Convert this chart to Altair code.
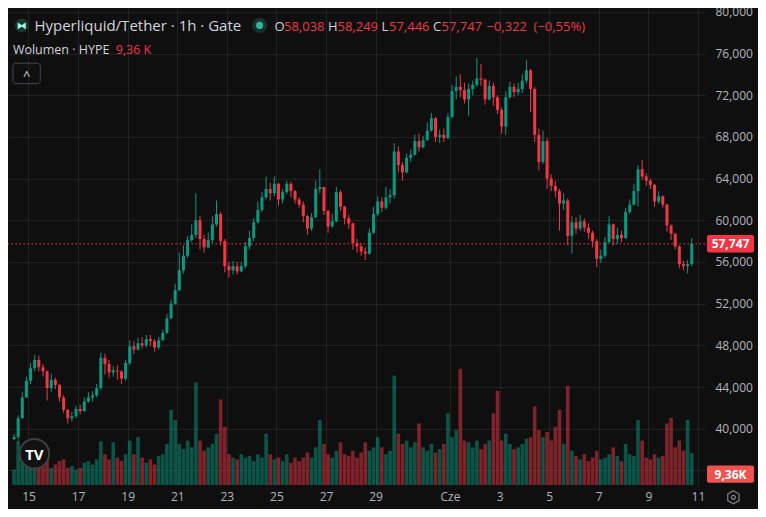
import altair as alt
import pandas as pd
from datetime import datetime, timedelta

# ---------------- data (4h candles) ----------------
closes = [
    39.2, 41.0, 43.0, 44.6, 45.8, 46.6, 45.9, 45.5, 43.9, 44.7,
    44.2, 43.0, 41.8, 41.0, 41.2, 41.9, 41.7, 42.6, 43.0, 43.2,
    43.9, 46.8, 46.2, 45.4, 45.6, 45.5, 44.8, 46.3, 47.9, 47.6,
    48.2, 48.0, 48.6, 48.4, 47.8, 48.5, 49.2, 50.6, 52.0, 53.3,
    55.2, 56.6, 58.1, 58.6, 60.0, 58.2, 57.4, 58.1, 59.6, 60.6,
    58.0, 55.6, 55.2, 55.6, 55.1, 55.6, 57.5, 58.3, 59.8, 61.0,
    62.2, 63.0, 62.6, 63.5, 62.0, 62.7, 63.5, 62.8, 62.0, 61.5,
    60.4, 59.2, 60.3, 63.0, 63.2, 60.9, 59.4, 59.9, 62.7, 61.3,
    60.2, 59.7, 57.8, 57.5, 57.0, 56.8, 58.8, 60.6, 61.8, 61.2,
    62.2, 62.4, 66.6, 65.3, 64.6, 66.0, 66.3, 67.6, 67.0, 67.7,
    68.6, 69.8, 68.0, 68.2, 67.9, 69.9, 72.4, 72.8, 72.5, 71.6,
    72.6, 73.0, 73.6, 73.5, 71.6, 72.9, 71.8, 70.6, 69.0, 71.8,
    72.8, 72.3, 72.6, 73.4, 74.4, 72.6, 68.2, 65.6, 67.6, 64.0,
    63.3, 62.8, 61.6, 61.9, 58.5, 59.8, 59.2, 59.9, 59.3, 58.8,
    58.0, 56.3, 56.6, 57.9, 59.6, 58.2, 58.6, 58.3, 60.8, 61.5,
    62.8, 64.9, 64.2, 63.8, 63.4, 61.8, 62.3, 61.5, 59.5, 58.7,
    57.5, 55.8, 55.6, 55.8, 57.747,
]
highs = [
    39.5, 41.3, 43.5, 45.0, 46.3, 47.1, 47.0, 46.2, 45.6, 45.3,
    44.9, 44.3, 43.2, 41.9, 41.6, 42.2, 42.3, 43.0, 43.5, 43.6,
    44.3, 47.3, 47.2, 46.6, 46.0, 46.1, 45.6, 46.6, 48.5, 48.4,
    48.7, 48.8, 49.0, 49.0, 48.6, 48.8, 49.5, 51.0, 52.4, 53.9,
    56.9, 57.6, 58.5, 59.6, 62.6, 60.4, 58.6, 58.8, 60.4, 61.9,
    60.8, 58.2, 56.0, 56.1, 56.0, 56.0, 57.9, 59.0, 60.2, 61.8,
    62.7, 64.2, 63.6, 64.2, 63.6, 63.0, 63.8, 63.7, 62.9, 62.2,
    61.8, 60.5, 60.7, 63.8, 64.9, 63.2, 61.0, 60.6, 63.2, 62.9,
    61.4, 60.5, 59.8, 58.2, 57.8, 57.4, 59.2, 61.3, 62.3, 62.2,
    63.2, 63.0, 67.4, 67.1, 65.6, 66.4, 66.8, 68.2, 68.3, 68.1,
    69.4, 70.3, 69.9, 68.7, 68.8, 70.3, 73.0, 73.8, 74.0, 73.2,
    73.1, 73.4, 75.6, 75.0, 73.6, 73.4, 73.2, 72.0, 70.8, 72.4,
    73.3, 73.1, 73.2, 74.0, 75.4, 74.5, 72.8, 68.8, 68.6, 67.9,
    64.4, 63.8, 63.0, 62.6, 62.1, 60.4, 60.3, 60.5, 60.2, 59.7,
    59.0, 58.2, 57.2, 58.4, 60.4, 59.7, 59.3, 59.0, 61.2, 62.0,
    63.5, 65.3, 65.8, 64.5, 64.0, 63.5, 62.8, 62.4, 61.6, 59.6,
    58.8, 57.6, 56.1, 56.2, 58.3,
]
lows = [
    38.9, 39.0, 41.0, 43.0, 44.3, 45.5, 45.5, 45.0, 42.7, 43.5,
    43.8, 42.6, 41.5, 40.5, 40.7, 41.0, 41.4, 41.6, 42.5, 42.6,
    43.0, 43.7, 45.2, 44.9, 45.0, 44.7, 44.3, 44.6, 46.1, 47.2,
    47.5, 47.7, 47.8, 47.9, 47.4, 47.6, 48.4, 49.1, 50.5, 51.9,
    53.2, 54.9, 56.4, 57.9, 58.3, 57.2, 56.9, 57.3, 57.8, 59.4,
    57.6, 55.0, 54.5, 54.8, 54.8, 55.0, 55.4, 57.2, 58.0, 59.7,
    60.8, 62.0, 61.9, 62.3, 61.4, 61.6, 62.5, 62.2, 61.6, 61.2,
    59.8, 58.6, 59.0, 60.2, 62.6, 60.5, 58.8, 59.3, 59.8, 60.9,
    59.6, 59.2, 57.2, 56.9, 56.6, 56.2, 56.7, 58.7, 60.4, 60.8,
    61.0, 61.6, 62.1, 64.6, 63.8, 64.5, 65.6, 66.2, 66.6, 66.9,
    67.6, 68.5, 67.5, 67.4, 67.5, 67.8, 69.8, 71.6, 71.8, 71.2,
    70.0, 72.0, 72.8, 72.9, 71.1, 71.5, 71.0, 70.2, 68.3, 68.2,
    71.7, 71.8, 72.0, 72.2, 73.1, 70.4, 67.5, 64.8, 65.4, 63.0,
    62.8, 62.2, 59.0, 61.0, 57.6, 56.8, 58.7, 59.0, 58.9, 58.2,
    57.4, 55.5, 55.9, 56.4, 57.8, 57.6, 57.7, 57.9, 58.2, 60.6,
    61.4, 61.3, 63.9, 63.3, 63.0, 61.3, 61.6, 61.2, 58.9, 58.1,
    57.2, 55.4, 55.2, 54.9, 55.6,
]
volumes_k = [
    4.5, 13, 11, 8, 6, 6, 5, 6, 7, 5,
    6, 7, 7.5, 5, 5.5, 4.5, 5, 6.5, 7, 6,
    7.5, 12.8, 9, 7.5, 12.5, 8, 7, 9, 13, 9,
    14, 8, 6.5, 7.5, 6, 8.5, 9, 12, 22, 19,
    12, 10.5, 13, 11, 30, 13, 10, 11, 12, 15,
    25, 17, 9, 8, 7.5, 9, 8, 8.5, 7, 9,
    8, 15, 9, 7.5, 8, 7, 9, 6.5, 8, 7,
    8, 9.5, 8, 11, 19, 12, 9, 8, 10, 12.5,
    9, 8.5, 10, 8, 9.5, 12.5, 10, 11, 14, 11,
    9, 10, 32, 15, 12, 13, 11, 12.5, 18, 11,
    10, 12, 9.5, 10.5, 12, 21, 14, 16, 34, 13,
    12.5, 11, 13, 10.5, 12, 13, 21, 27.5, 13, 15,
    12, 10.5, 11, 12, 13.5, 14, 23, 16, 14, 15.5,
    13, 17, 22, 12, 29, 10, 8.5, 7.5, 9, 7,
    8, 10, 7.5, 8, 9, 11, 8.5, 7, 12, 9,
    8.5, 19, 13, 8, 7.5, 9, 8, 8.5, 18, 19.6,
    11, 13, 10, 19, 9.36,
]
first_open = 39.0
start_time = datetime(2025, 5, 14, 8, 0)   # first 4h candle

# header texts
title_text = "Hyperliquid/Tether · 1h · Gate"
ohlc_letters = ["O", "H", "L", "C"]
ohlc_values = ["58,038", "58,249", "57,446", "57,747"]
change_abs = "−0,322"
change_pct = "(−0,55%)"
vol_title = "Wolumen · HYPE"
vol_value = "9,36 K"
vol_axis_label = "9,36K"
price_ticks = [36, 40, 44, 48, 52, 56, 60, 64, 68, 72, 76, 80]
may_days = [15, 17, 19, 21, 23, 25, 27, 29]
june_days = [1, 3, 5, 7, 9, 11]

# ---------------- styling ----------------
BG = "#0f0f0f"
GRID = "#222222"
AXC = "#b2b5be"
TXT = "#d1d4dc"
UP = "#089981"
DN = "#f23645"
FONT = "Open Sans"
W, H = 697, 477

times = [(start_time + timedelta(hours=4 * i + 2)).strftime("%Y-%m-%dT%H:%M:%S")
         for i in range(len(closes))]
opens = [first_open] + closes[:-1]
df = pd.DataFrame({"t": times, "open": opens, "high": highs, "low": lows,
                   "close": closes, "vol": volumes_k})

last = closes[-1]
last_label = f"{last:.3f}".replace(".", ",")

tick_dates = [alt.DateTime(year=2025, month=5, date=d) for d in may_days] + \
             [alt.DateTime(year=2025, month=6, date=d) for d in june_days]

x_axis = alt.Axis(values=tick_dates, grid=True, gridColor=GRID, domain=False,
                  ticks=False, labelColor=AXC, labelFontSize=12, labelFont=FONT,
                  labelPadding=6, title=None, labelFlush=False, labelOverlap=False,
                  labelExpr="date(datum.value) == 1 ? 'Cze' : '' + date(datum.value)")
x_scale = alt.Scale(domain=[alt.DateTime(year=2025, month=5, date=14, hours=9),
                            alt.DateTime(year=2025, month=6, date=11, hours=2)])
x_enc = alt.X("t:T", scale=x_scale, axis=x_axis)

price_scale = alt.Scale(domain=[34.6, 80.37], nice=False, zero=False)
price_axis = alt.Axis(orient="right", values=price_ticks, grid=True, gridColor=GRID,
                      domain=False, ticks=False, labelColor=AXC, labelFontSize=12,
                      labelFont=FONT, labelPadding=10, labelAlign="left", title=None,
                      labelFlush=False, labelOverlap=False,
                      labelExpr="replace(format(datum.value, '.3f'), '.', ',')")

updown = "datum.close >= datum.open"
base = alt.Chart(df)

vol = base.mark_bar(size=3.6, opacity=0.5).encode(
    x=x_enc,
    y=alt.Y("vol:Q", scale=alt.Scale(domain=[0, 139.5]), axis=None),
    color=alt.condition(updown, alt.value(UP), alt.value(DN)),
)

wick = base.mark_rule(strokeWidth=1).encode(
    x=x_enc,
    y=alt.Y("low:Q", scale=price_scale, axis=price_axis),
    y2="high:Q",
    color=alt.condition(updown, alt.value(UP), alt.value(DN)),
)
body = base.mark_bar(size=3).encode(
    x=x_enc,
    y=alt.Y("open:Q", scale=price_scale, axis=price_axis),
    y2="close:Q",
    color=alt.condition(updown, alt.value(UP), alt.value(DN)),
)

pdf = pd.DataFrame({"p": [last], "lo": [last - 0.83], "hi": [last + 0.83]})
pline = alt.Chart(pdf).mark_rule(color=DN, strokeDash=[1.5, 2.5], strokeWidth=1).encode(
    y=alt.Y("p:Q", scale=price_scale, axis=price_axis))
pbox = alt.Chart(pdf).mark_rect(color=DN, cornerRadius=2).encode(
    x=alt.value(699), x2=alt.value(746),
    y=alt.Y("lo:Q", scale=price_scale, axis=price_axis), y2="hi:Q")
ptext = alt.Chart(pdf).mark_text(color="white", fontSize=12, fontWeight="bold",
                                  font=FONT, align="center", baseline="middle",
                                  text=last_label).encode(
    x=alt.value(722.5), y=alt.Y("p:Q", scale=price_scale, axis=price_axis))

price_layer = alt.layer(wick, body, pline, pbox, ptext)

ONE = pd.DataFrame({"k": [0]})


def txt(s, x, y, color, size, weight="normal", align="left", baseline="alphabetic", font=FONT):
    return alt.Chart(ONE).mark_text(text=s, color=color, fontSize=size, fontWeight=weight,
                                    align=align, baseline=baseline, font=font).encode(
        x=alt.value(x), y=alt.value(y))


deco = []
# symbol icon
deco.append(alt.Chart(ONE).mark_circle(size=190, color="#1d3331", opacity=1).encode(
    x=alt.value(13.7), y=alt.value(17.4)))
deco.append(txt("⧓", 13.7, 17.6, "#97fce4", 10, baseline="middle", align="center",
                font="DejaVu Sans"))
deco.append(txt(title_text, 26.4, 22.5, TXT, 15))
# status dot
deco.append(alt.Chart(ONE).mark_circle(size=230, color="#1b2f2c", opacity=1).encode(
    x=alt.value(251.6), y=alt.value(17.4)))
deco.append(alt.Chart(ONE).mark_circle(size=50, color="#2fb7a0", opacity=1).encode(
    x=alt.value(251.6), y=alt.value(17.4)))
# OHLC
letter_x = [266.5, 320.0, 373.5, 425.0]
value_x = [276.0, 329.5, 381.0, 433.5]
for lt, lx, vv, vx in zip(ohlc_letters, letter_x, ohlc_values, value_x):
    deco.append(txt(lt, lx, 22.5, TXT, 13))
    deco.append(txt(vv, vx, 22.5, DN, 13))
deco.append(txt(change_abs, 478.5, 22.5, DN, 13))
deco.append(txt(change_pct, 525.5, 22.5, DN, 13))
# volume legend
deco.append(txt(vol_title, 4.9, 45.5, TXT, 12.5))
deco.append(txt(vol_value, 107.7, 45.5, DN, 12.5))
# collapse button
deco.append(alt.Chart(ONE).mark_rect(fillOpacity=0, stroke="#434651", strokeWidth=1,
                                     cornerRadius=3).encode(
    x=alt.value(4.9), x2=alt.value(32.3), y=alt.value(55.2), y2=alt.value(75.6)))
deco.append(txt("^", 18.6, 71.5, TXT, 13, align="center"))
# tradingview logo
deco.append(alt.Chart(ONE).mark_circle(size=870, color="#121212", opacity=1,
                                       stroke="#3f3f3f", strokeWidth=2).encode(
    x=alt.value(26.4), y=alt.value(445.7)))
deco.append(txt("TV", 26.4, 446.5, "white", 15, weight="bold", align="center",
                baseline="middle"))
# volume label on axis
deco.append(alt.Chart(ONE).mark_rect(color="#ef5350", cornerRadius=2).encode(
    x=alt.value(699), x2=alt.value(746), y=alt.value(457.4), y2=alt.value(474.8)))
deco.append(txt(vol_axis_label, 722.5, 466.5, "white", 12, weight="bold",
                align="center", baseline="middle"))
# settings icon
deco.append(alt.Chart(ONE).mark_point(
    shape="M0,-1L0.866,-0.5L0.866,0.5L0,1L-0.866,0.5L-0.866,-0.5Z",
    size=170, filled=False, color=AXC, strokeWidth=1.2).encode(
    x=alt.value(725.4), y=alt.value(489.3)))
deco.append(alt.Chart(ONE).mark_point(shape="circle", size=16, filled=False,
                                      color=AXC, strokeWidth=1.2).encode(
    x=alt.value(725.4), y=alt.value(489.3)))

chart = alt.layer(vol, price_layer, *deco).resolve_scale(y="independent").properties(
    width=W, height=H,
    padding={"left": 0, "top": 0, "right": 53, "bottom": 24},
    autosize=alt.AutoSizeParams(type="none"),
    background=BG,
).configure_view(stroke=None)

chart.save("out.html", embed_options={"renderer": "svg", "actions": False})
